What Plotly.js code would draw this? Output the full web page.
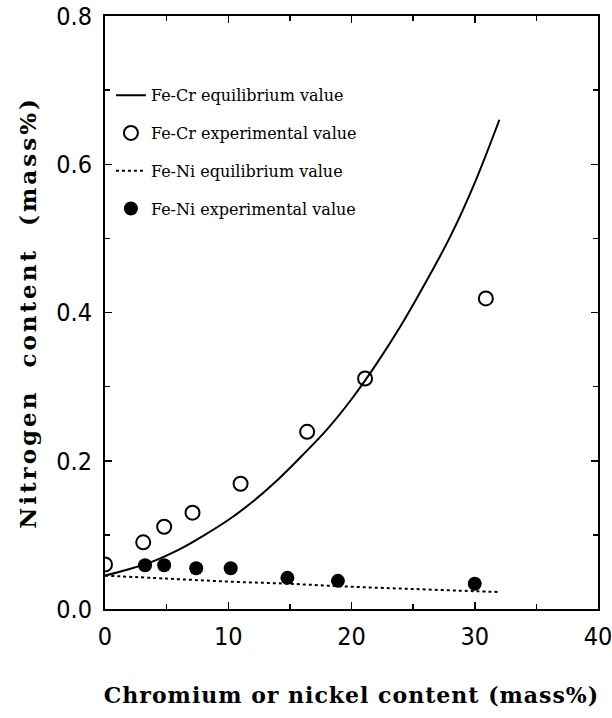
<!DOCTYPE html>
<html><head><meta charset="utf-8">
<script src="https://cdn.plot.ly/plotly-3.0.1.min.js"></script>
<style>
html,body{margin:0;padding:0;background:#fff}
.xtitle{letter-spacing:1px}
.ytitle{letter-spacing:3px}
</style>
</head><body><div id="chart" style="width:612px;height:718px"></div>
<script>
// Fe-Cr equilibrium curve
const crEqX = [0, 2, 4, 6, 8, 10, 12, 14, 16, 18, 20, 22, 24, 26, 28, 30, 32];
const crEqY = [0.045, 0.054, 0.065, 0.080, 0.099, 0.120, 0.145, 0.174, 0.207, 0.242, 0.283, 0.330, 0.382, 0.440, 0.502, 0.575, 0.660];
// Fe-Cr experimental
const crExpX = [0, 3.1, 4.8, 7.1, 11.0, 16.4, 21.1, 30.9];
const crExpY = [0.060, 0.090, 0.111, 0.130, 0.169, 0.239, 0.311, 0.419];
// Fe-Ni equilibrium
const niEqX = [0, 5, 10, 15, 20, 25, 30, 32];
const niEqY = [0.045, 0.041, 0.037, 0.034, 0.030, 0.027, 0.024, 0.023];
// Fe-Ni experimental
const niExpX = [3.25, 4.8, 7.4, 10.2, 14.8, 18.9, 30.0];
const niExpY = [0.059, 0.059, 0.055, 0.055, 0.042, 0.038, 0.034];

const names = ['Fe-Cr equilibrium value', 'Fe-Cr experimental value', 'Fe-Ni equilibrium value', 'Fe-Ni experimental value'];

const traces = [
  {x: crEqX, y: crEqY, mode: 'lines', name: names[0], legendgroup: 'a', line: {color: '#000', width: 2, shape: 'spline'}},
  {x: crExpX, y: crExpY, mode: 'markers', name: names[1], legendgroup: 'b', marker: {symbol: 'circle-open', size: 14, color: '#000', line: {width: 2, color: '#000'}}},
  {x: niEqX, y: niEqY, mode: 'lines', name: names[2], legendgroup: 'c', line: {color: '#000', width: 2, dash: 'dot', shape: 'spline'}},
  {x: niExpX, y: niExpY, mode: 'markers', name: names[3], legendgroup: 'd', marker: {symbol: 'circle', size: 14, color: '#000'}}
];

const tickFont = {family: 'DejaVu Sans Condensed, Liberation Sans, Arial, sans-serif', size: 25, color: '#000'};
const xTitleFont = {family: 'DejaVu Serif, serif', size: 22, color: '#000', weight: 'bold'};
const yTitleFont = {family: 'DejaVu Serif, serif', size: 23, color: '#000', weight: 'bold'};

const axisCommon = {
  showline: true, linecolor: '#000', linewidth: 2, mirror: 'allticks',
  ticks: 'inside', ticklen: 7, tickwidth: 1.5, tickcolor: '#000',
  showgrid: false, zeroline: false, ticklabeloverflow: 'allow',
  tickfont: tickFont
};

const layout = {
  width: 612, height: 718,
  margin: {l: 105, r: 14, t: 16, b: 109},
  paper_bgcolor: '#fff', plot_bgcolor: '#fff',
  showlegend: true,
  legend: {
    x: 0.012, y: 0.895, xanchor: 'left', yanchor: 'top',
    bgcolor: 'rgba(0,0,0,0)', traceorder: 'grouped', tracegroupgap: 14,
    font: {family: 'DejaVu Serif, serif', size: 16, color: '#000'}
  },
  xaxis: Object.assign({}, axisCommon, {
    range: [0, 40], dtick: 10, tick0: 0, ticklabelstandoff: 4,
    minor: {dtick: 5, ticks: 'inside', ticklen: 5, tickcolor: '#000', tickwidth: 1.5},
    title: {text: 'Chromium or nickel content (mass%)', standoff: 38, font: xTitleFont}
  }),
  yaxis: Object.assign({}, axisCommon, {
    range: [0, 0.8], dtick: 0.2, tick0: 0, tickformat: '.1f', ticklabelstandoff: 6,
    minor: {dtick: 0.1, ticks: 'inside', ticklen: 5, tickcolor: '#000', tickwidth: 1.5},
    title: {text: 'Nitrogen\u00a0 content\u00a0 (mass%)', standoff: 13, font: yTitleFont}
  })
};

Plotly.newPlot('chart', traces, layout, {displayModeBar: false, staticPlot: true});
</script>
</body></html>
